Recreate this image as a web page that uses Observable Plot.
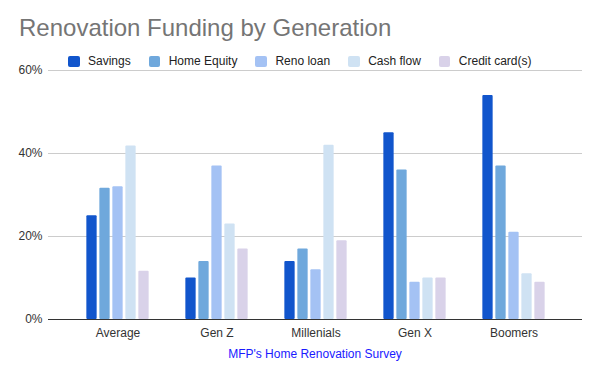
<!DOCTYPE html>
<html>
<head>
<meta charset="utf-8">
<script src="https://cdn.jsdelivr.net/npm/d3@7"></script>
<script src="https://cdn.jsdelivr.net/npm/@observablehq/plot@0.6"></script>
<style>
  html, body { margin: 0; padding: 0; background: #fff; }
  #wrap { position: relative; width: 600px; height: 371px; font-family: "Liberation Sans", Arial, sans-serif; }
  #title { position: absolute; left: 19px; top: 16px; font-size: 24px; line-height: 24px; color: #757575; white-space: nowrap; }
  #legend { position: absolute; left: 68px; top: 54px; display: flex; align-items: center; font-size: 12px; line-height: 14px; color: #222; white-space: nowrap; }
  #legend .item { display: flex; align-items: center; margin-right: 18px; }
  #legend .sw { width: 11.5px; height: 11.5px; border-radius: 2px; margin-right: 8.5px; margin-top: 1px; }
  #caption { position: absolute; left: 48px; width: 534px; top: 347px; text-align: center; font-size: 12px; line-height: 14px; color: #1a1aff; }
  #chart { position: absolute; left: 0; top: 0; }
</style>
</head>
<body>
<div id="wrap">
  <div id="chart"></div>
  <div id="title">Renovation Funding by Generation</div>
  <div id="legend"></div>
  <div id="caption">MFP's Home Renovation Survey</div>
</div>
<script>
const categories = ["Average", "Gen Z", "Millenials", "Gen X", "Boomers"];
const seriesNames = ["Savings", "Home Equity", "Reno loan", "Cash flow", "Credit card(s)"];
const savings     = [25, 10, 14, 45, 54];
const homeEquity  = [31.6, 14, 17, 36, 37];
const renoLoan    = [32, 37, 12, 9, 21];
const cashFlow    = [41.8, 23, 42, 10, 11];
const creditCards = [11.6, 17, 19, 10, 9];
const colors = ["#1155cc", "#6fa8dc", "#a4c2f4", "#cfe2f3", "#d9d2e9"];
const yTicks = [0, 20, 40, 60];

const seriesValues = [savings, homeEquity, renoLoan, cashFlow, creditCards];
const rows = categories.map((c, i) => {
  const r = {category: c};
  seriesNames.forEach((s, j) => r[s] = seriesValues[j][i]);
  return r;
});

// legend
const legend = document.getElementById("legend");
seriesNames.forEach((s, j) => {
  const item = document.createElement("div");
  item.className = "item";
  const sw = document.createElement("div");
  sw.className = "sw";
  sw.style.background = colors[j];
  const t = document.createElement("span");
  t.textContent = s;
  item.appendChild(sw);
  item.appendChild(t);
  legend.appendChild(item);
});

const step = 99.5, barW = 10.8, gap = 2.2;
const groupW = seriesNames.length * barW + (seriesNames.length - 1) * gap;
const off0 = (step - groupW) / 2;

const barMarks = seriesNames.map((s, j) => {
  const il = off0 + j * (barW + gap);
  return Plot.barY(rows, {
    x: "category", y: s, fill: colors[j],
    insetLeft: il, insetRight: step - il - barW, rx: 1
  });
});

const chart = Plot.plot({
  width: 600,
  height: 371,
  marginTop: 70,
  marginBottom: 52,
  marginLeft: 48,
  marginRight: 18,
  style: {fontFamily: "'Liberation Sans', Arial, sans-serif", fontSize: "12px", color: "#333", background: "transparent", overflow: "visible"},
  x: {type: "band", domain: categories, range: [66.75, 564.25], padding: 0, label: null, tickSize: 0, tickPadding: 8.5},
  y: {domain: [0, 60], ticks: yTicks, tickFormat: d => d + "%", label: null, tickSize: 0, tickPadding: 6},
  marks: [
    Plot.ruleY(yTicks.filter(d => d > 0), {stroke: "#cccccc", strokeWidth: 1}),
    ...barMarks,
    Plot.ruleY([0], {stroke: "#333333", strokeWidth: 1})
  ]
});
document.getElementById("chart").appendChild(chart);
</script>
</body>
</html>
